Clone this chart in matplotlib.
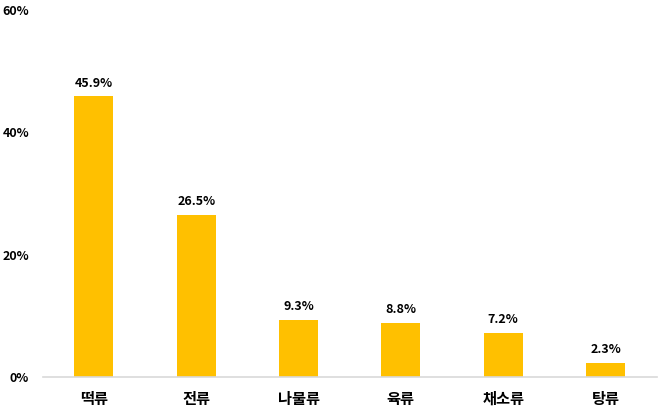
import matplotlib
matplotlib.use("Agg")
import matplotlib.pyplot as plt

plt.rcParams['font.family'] = ['Noto Sans CJK KR', 'DejaVu Sans']

# 데이터
categories = ['떡류', '전류', '나물류', '육류', '채소류', '탕류']
values = [45.9, 26.5, 9.3, 8.8, 7.2, 2.3]
y_ticks = [0, 20, 40, 60]

fig = plt.figure(figsize=(6.58, 4.11), dpi=100)
ax = fig.add_axes([0.065, 0.0827, 0.933, 0.893])

x = range(len(categories))
bars = ax.bar(x, values, width=0.38, color='#FFC000')

for xi, v in zip(x, values):
    ax.text(xi, v + 1.1, f'{v}%', ha='center', va='bottom',
            fontsize=9, fontweight='bold', color='black')

ax.set_xlim(-0.5, len(categories) - 0.5)
ax.set_ylim(0, 60)
ax.set_yticks(y_ticks)
ax.set_yticklabels([f'{t}%' for t in y_ticks], fontsize=9, fontweight='bold')
ax.set_xticks(list(x))
ax.set_xticklabels(categories, fontsize=11, fontweight='bold')
ax.tick_params(axis='y', length=0, pad=10)
ax.tick_params(axis='x', length=0, pad=10)

for s in ['top', 'right', 'left']:
    ax.spines[s].set_visible(False)
ax.spines['bottom'].set_color('#D9D9D9')
ax.spines['bottom'].set_linewidth(1.2)

fig.savefig('out.png', dpi=100)
